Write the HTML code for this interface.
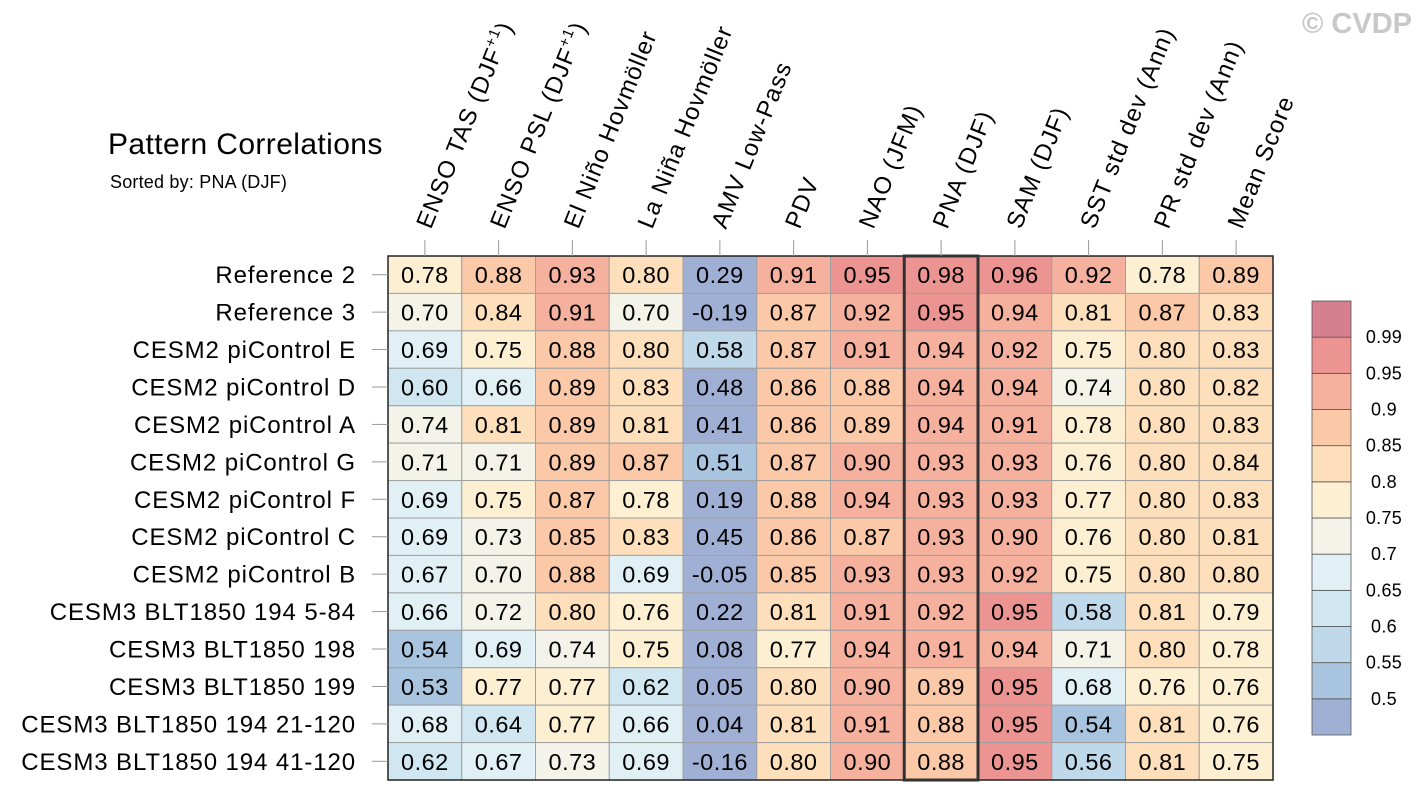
<!DOCTYPE html>
<html><head><meta charset="utf-8"><style>
body{margin:0;background:#fff;width:1422px;height:801px;overflow:hidden;font-family:"Liberation Sans",sans-serif}
</style></head><body>
<svg id="chart" width="1422" height="801" xmlns="http://www.w3.org/2000/svg" font-family="Liberation Sans, sans-serif">
<text x="1412" y="33" text-anchor="end" font-size="29" font-weight="bold" fill="#c8c8c8">© CVDP</text>
<text x="108" y="154" font-size="30" letter-spacing="0.4" fill="#000">Pattern Correlations</text>
<text x="110" y="188" font-size="18" letter-spacing="0.2" fill="#000">Sorted by: PNA (DJF)</text>
<g id="cells"></g>
<g id="labels"></g>
<g id="cbar"></g>
</svg>
<script>
const columns=["ENSO TAS (DJF+1)","ENSO PSL (DJF+1)","El Niño Hovmöller","La Niña Hovmöller","AMV Low-Pass","PDV","NAO (JFM)","PNA (DJF)","SAM (DJF)","SST std dev (Ann)","PR std dev (Ann)","Mean Score"];
const rows=["Reference 2","Reference 3","CESM2 piControl E","CESM2 piControl D","CESM2 piControl A","CESM2 piControl G","CESM2 piControl F","CESM2 piControl C","CESM2 piControl B","CESM3 BLT1850 194 5-84","CESM3 BLT1850 198","CESM3 BLT1850 199","CESM3 BLT1850 194 21-120","CESM3 BLT1850 194 41-120"];
const values=[
[0.78,0.88,0.93,0.80,0.29,0.91,0.95,0.98,0.96,0.92,0.78,0.89],
[0.70,0.84,0.91,0.70,-0.19,0.87,0.92,0.95,0.94,0.81,0.87,0.83],
[0.69,0.75,0.88,0.80,0.58,0.87,0.91,0.94,0.92,0.75,0.80,0.83],
[0.60,0.66,0.89,0.83,0.48,0.86,0.88,0.94,0.94,0.74,0.80,0.82],
[0.74,0.81,0.89,0.81,0.41,0.86,0.89,0.94,0.91,0.78,0.80,0.83],
[0.71,0.71,0.89,0.87,0.51,0.87,0.90,0.93,0.93,0.76,0.80,0.84],
[0.69,0.75,0.87,0.78,0.19,0.88,0.94,0.93,0.93,0.77,0.80,0.83],
[0.69,0.73,0.85,0.83,0.45,0.86,0.87,0.93,0.90,0.76,0.80,0.81],
[0.67,0.70,0.88,0.69,-0.05,0.85,0.93,0.93,0.92,0.75,0.80,0.80],
[0.66,0.72,0.80,0.76,0.22,0.81,0.91,0.92,0.95,0.58,0.81,0.79],
[0.54,0.69,0.74,0.75,0.08,0.77,0.94,0.91,0.94,0.71,0.80,0.78],
[0.53,0.77,0.77,0.62,0.05,0.80,0.90,0.89,0.95,0.68,0.76,0.76],
[0.68,0.64,0.77,0.66,0.04,0.81,0.91,0.88,0.95,0.54,0.81,0.76],
[0.62,0.67,0.73,0.69,-0.16,0.80,0.90,0.88,0.95,0.56,0.81,0.75]];
const levels=[0.5,0.55,0.6,0.65,0.7,0.75,0.8,0.85,0.9,0.95,0.99];
const levelLabels=["0.5","0.55","0.6","0.65","0.7","0.75","0.8","0.85","0.9","0.95","0.99"];
const palette=["#9fb0d4","#a9c4de","#bfd9ea","#d0e6f0","#e1f0f5","#f3f3ea","#fdf0d2","#fde0bb","#fbc9a8","#f6b09e","#ec9491","#d67f8f"];
const sortedColumn=7;

const NS="http://www.w3.org/2000/svg";
const X0=388,Y0=256,CW=73.75,RH=37.43;
const xPos=i=>X0+i*CW, yPos=j=>Y0+j*RH;
function colorFor(v){let k=0;while(k<levels.length&&v>=levels[k]-1e-9)k++;return palette[k];}
function mk(tag,attrs,parent){const e=document.createElementNS(NS,tag);for(const k in attrs)e.setAttribute(k,attrs[k]);parent.appendChild(e);return e;}
const cells=document.getElementById('cells'),labels=document.getElementById('labels'),cbar=document.getElementById('cbar');
values.forEach((row,j)=>row.forEach((v,i)=>{
  const r=mk('rect',{x:xPos(i),y:yPos(j),width:CW,height:RH,fill:colorFor(v),stroke:'#a0a0a0','stroke-width':1},cells);
  
  
  const t=mk('text',{x:xPos(i)+CW/2,y:yPos(j)+RH/2+8.5,'text-anchor':'middle','font-size':23.5,'letter-spacing':0.5,fill:'#000'},cells);
  t.textContent=v.toFixed(2);
  
  
}));
const fr=mk('rect',{x:X0,y:Y0,width:CW*columns.length,height:RH*rows.length,fill:'none',stroke:'#222','stroke-width':1.5},cells);


const hl=mk('rect',{x:xPos(sortedColumn),y:Y0,width:CW,height:RH*rows.length,fill:'none',stroke:'#333','stroke-width':3},cells);


columns.forEach((c,i)=>{
  const cx=xPos(i)+CW/2;
  const tk=mk('line',{x1:cx,y1:240,x2:cx,y2:Y0,stroke:'#999','stroke-width':1},labels);
  
  
  const t=mk('text',{x:cx+6,y:230,'font-size':24,'letter-spacing':1.1,fill:'#000',transform:`rotate(-68 ${cx+6} 230)`},labels);
  
  
  if(c.includes('+1')){
    const base=c.replace('+1)','');
    t.appendChild(document.createTextNode(base));
    const s=mk('tspan',{'font-size':15,dy:-10},t);s.textContent='+1';
    const e=mk('tspan',{dy:10},t);e.textContent=')';
  } else t.textContent=c;
});
rows.forEach((r,j)=>{
  const cy=yPos(j)+RH/2;
  const tk=mk('line',{x1:372,y1:cy,x2:X0,y2:cy,stroke:'#999','stroke-width':1},labels);
  
  
  const t=mk('text',{x:356,y:cy+8.5,'text-anchor':'end','font-size':24,'letter-spacing':0.9,fill:'#000'},labels);
  t.textContent=r;
  
  
});
const CBH=(735-301)/palette.length;
palette.forEach((p,k)=>{
  const y=735-(k+1)*CBH;
  const r=mk('rect',{x:1312,y:y,width:39,height:CBH,fill:p,stroke:'#555','stroke-width':0.8},cbar);
  
  
});
levels.forEach((l,k)=>{
  const y=735-(k+1)*CBH;
  const t=mk('text',{x:1384,y:y+6,'text-anchor':'middle','font-size':18,'letter-spacing':0.3,fill:'#000'},cbar);
  t.textContent=levelLabels[k];
  
  
});
</script>
</body></html>
